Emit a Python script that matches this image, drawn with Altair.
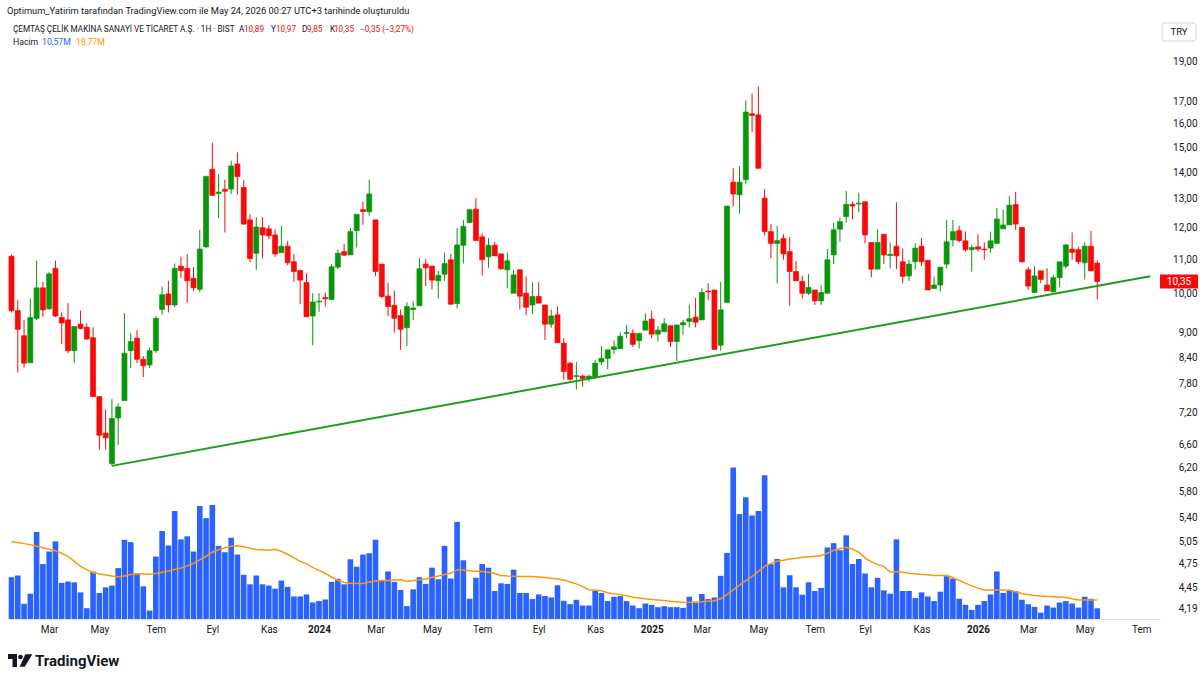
import altair as alt
import pandas as pd

# ---------------- data (weekly candles, BIST:CEMTS) ----------------
FIRST_WEEK = "2023-01-23"

opens = [11.10, 9.55, 8.91, 8.27, 9.35, 10.17, 9.60, 10.73, 9.37, 9.31,
         8.55, 9.20, 9.12, 8.86, 7.53, 6.81, 6.26, 7.10, 7.45, 8.55,
         8.85, 8.35, 8.22, 8.55, 9.58, 10.00, 9.70, 10.80, 10.73, 10.44,
         10.13, 11.39, 14.11, 13.20, 13.35, 13.36, 14.32, 13.42, 12.27, 11.19,
         12.01, 11.97, 11.77, 11.21, 11.41, 10.93, 10.67, 10.32, 9.41, 9.78,
         9.90, 9.85, 10.77, 11.24, 11.14, 11.91, 12.62, 12.55, 12.27, 10.86,
         9.94, 9.69, 9.42, 9.11, 9.58, 9.68, 10.86, 10.80, 10.37, 10.56,
         10.99, 9.74, 11.44, 12.18, 12.64, 11.71, 11.08, 11.44, 11.17, 10.69,
         10.02, 10.69, 10.02, 9.70, 9.93, 9.70, 9.20, 9.44, 8.73, 8.26,
         7.96, 7.97, 7.92, 7.95, 8.29, 8.37, 8.58, 8.60, 8.97, 8.97,
         8.79, 9.05, 9.33, 8.95, 9.01, 9.16, 8.77, 9.18, 9.27, 9.38,
         9.31, 10.08, 10.11, 8.68, 9.77, 13.62, 13.15, 13.71, 16.45, 16.40,
         13.03, 11.88, 11.50, 11.66, 11.24, 10.64, 10.35, 10.02, 10.11, 9.81,
         10.02, 11.14, 11.96, 12.38, 12.81, 12.82, 12.90, 11.53, 10.71, 11.79,
         11.12, 11.41, 10.93, 10.51, 10.93, 11.41, 10.97, 10.15, 10.25, 10.86,
         11.61, 11.91, 11.58, 11.30, 11.39, 11.32, 11.35, 11.50, 11.97, 12.10,
         12.80, 12.02, 10.69, 10.04, 10.66, 10.25, 10.06, 10.46, 10.80, 11.32,
         11.30, 10.90, 11.41, 10.89]
highs = [11.15, 9.83, 9.31, 9.87, 10.96, 10.34, 10.62, 10.96, 9.50, 9.75,
         9.14, 9.55, 9.22, 9.12, 7.53, 7.27, 7.48, 7.39, 9.48, 8.97,
         9.05, 8.42, 8.62, 9.41, 10.20, 10.37, 10.88, 11.08, 11.16, 10.77,
         11.94, 13.87, 15.19, 13.92, 13.71, 14.45, 14.78, 13.69, 12.46, 12.36,
         12.36, 12.10, 11.96, 12.07, 11.58, 11.17, 10.69, 10.59, 10.02, 10.02,
         10.04, 10.85, 11.30, 11.48, 12.00, 12.47, 12.90, 13.71, 12.27, 10.87,
         10.32, 10.09, 9.58, 9.77, 9.79, 11.04, 11.01, 10.80, 10.66, 11.21,
         11.17, 12.00, 12.27, 12.62, 13.03, 11.82, 11.67, 11.55, 11.18, 11.21,
         10.69, 10.69, 10.50, 10.33, 10.33, 9.70, 9.58, 9.66, 8.85, 8.29,
         8.29, 8.00, 8.00, 8.33, 8.66, 8.57, 8.79, 8.99, 9.18, 9.07,
         8.97, 9.48, 9.55, 9.15, 9.35, 9.16, 9.18, 9.31, 9.70, 9.90,
         10.16, 10.30, 10.11, 10.34, 12.75, 14.15, 14.24, 17.06, 17.40, 17.73,
         13.36, 12.13, 12.07, 11.79, 11.70, 10.96, 10.52, 10.56, 10.11, 10.25,
         11.32, 12.18, 12.36, 13.29, 12.90, 13.23, 12.90, 11.53, 11.96, 11.79,
         11.53, 12.88, 11.33, 10.99, 11.50, 11.67, 10.99, 10.49, 10.77, 12.27,
         12.27, 12.07, 11.88, 11.45, 11.79, 11.53, 11.88, 12.68, 12.62, 13.10,
         13.26, 12.02, 10.77, 10.80, 10.66, 10.74, 10.54, 10.93, 11.48, 11.85,
         11.39, 11.53, 11.90, 10.97]
lows = [9.50, 8.05, 8.16, 8.27, 9.30, 9.39, 9.57, 9.38, 8.71, 8.49,
        8.26, 9.07, 8.81, 7.53, 6.51, 6.51, 6.22, 6.59, 7.45, 8.15,
        8.26, 7.95, 8.15, 8.50, 9.44, 9.50, 9.64, 10.46, 9.76, 10.08,
        10.06, 11.36, 13.13, 12.33, 11.85, 13.18, 13.15, 12.10, 10.91, 10.69,
        11.03, 11.63, 11.08, 11.21, 10.83, 10.34, 9.72, 9.39, 8.68, 9.52,
        9.66, 9.83, 10.71, 11.11, 11.14, 11.37, 12.10, 12.41, 10.51, 9.88,
        9.41, 8.99, 8.57, 8.66, 9.31, 9.68, 10.22, 10.13, 9.87, 10.37,
        9.72, 9.61, 10.88, 12.18, 11.59, 10.52, 10.75, 11.11, 10.69, 10.16,
        10.02, 9.58, 9.43, 9.46, 9.75, 8.81, 9.11, 8.74, 7.89, 7.87,
        7.68, 7.74, 7.85, 7.90, 8.22, 8.12, 8.47, 8.60, 8.85, 8.64,
        8.60, 9.05, 8.85, 8.77, 9.01, 8.64, 8.31, 8.93, 9.12, 9.12,
        9.31, 9.83, 8.58, 8.55, 9.77, 12.73, 12.49, 13.54, 15.63, 14.15,
        11.74, 11.04, 10.30, 10.99, 9.68, 10.37, 9.88, 9.97, 9.70, 9.70,
        10.02, 10.86, 11.55, 12.18, 12.29, 12.53, 11.50, 10.47, 10.71, 10.86,
        10.73, 10.71, 10.30, 10.37, 10.69, 10.80, 10.11, 10.15, 10.06, 10.73,
        11.41, 11.53, 11.24, 10.64, 11.24, 10.99, 11.21, 11.48, 11.97, 12.10,
        11.94, 10.90, 10.11, 10.04, 10.30, 10.09, 10.05, 10.19, 10.73, 10.99,
        10.86, 10.41, 10.66, 9.85]
closes = [9.55, 9.07, 8.26, 9.37, 10.17, 9.57, 10.57, 9.41, 9.23, 8.55,
          9.14, 9.09, 8.83, 7.53, 6.77, 6.72, 7.09, 7.32, 8.49, 8.77,
          8.35, 8.20, 8.55, 9.35, 9.98, 9.70, 10.73, 10.67, 10.37, 10.17,
          11.32, 13.83, 13.13, 13.25, 13.28, 14.24, 13.83, 12.13, 11.03, 12.03,
          11.77, 11.74, 11.17, 11.41, 10.90, 10.64, 10.39, 9.39, 9.78, 9.80,
          9.87, 10.78, 11.19, 11.13, 11.88, 12.46, 12.56, 13.18, 10.64, 9.93,
          9.66, 9.35, 9.07, 9.66, 9.62, 10.72, 10.75, 10.39, 10.53, 10.88,
          9.72, 11.45, 12.05, 12.62, 11.59, 10.99, 11.44, 11.11, 10.72, 10.96,
          10.54, 9.94, 9.64, 9.93, 9.75, 9.20, 9.41, 8.74, 8.07, 7.90,
          7.98, 7.92, 7.97, 8.26, 8.37, 8.57, 8.64, 8.90, 8.99, 8.70,
          8.97, 9.28, 8.95, 9.05, 9.21, 8.77, 9.18, 9.24, 9.34, 9.25,
          10.04, 10.06, 8.58, 9.57, 12.75, 13.18, 13.62, 16.53, 16.37, 14.15,
          11.88, 11.50, 11.59, 11.17, 10.64, 10.37, 10.02, 10.18, 9.81, 10.04,
          10.99, 11.94, 12.21, 12.81, 12.75, 12.85, 11.77, 10.71, 11.53, 11.14,
          11.16, 11.11, 10.50, 10.86, 11.35, 10.93, 10.11, 10.25, 10.77, 11.55,
          11.88, 11.59, 11.30, 11.37, 11.32, 11.30, 11.58, 12.30, 12.10, 12.78,
          12.13, 10.93, 10.22, 10.51, 10.41, 10.09, 10.46, 10.93, 11.45, 11.22,
          10.93, 11.41, 10.66, 10.35]
volumes_m = [41.3, 43, 15, 25, 86, 54.3, 66.7, 76.7, 35.7, 37,
             36.3, 26.3, 10.7, 46.7, 25.7, 31.3, 33, 50.3, 78.3, 76,
             45.3, 32.3, 8.3, 61.7, 87, 72.7, 106.7, 78.7, 81.7, 66.7,
             111.7, 99.7, 112.7, 72.3, 66, 80.3, 63.7, 43.7, 34.3, 43,
             34.3, 33, 30, 38, 31.7, 22.3, 22.3, 24.3, 16.3, 17.7,
             19.3, 36.7, 39.7, 34.3, 59, 51.7, 63.7, 65, 78.3, 37.7,
             47, 36.7, 28.7, 12.7, 29.3, 41.3, 34.7, 50.7, 39.3, 72.3,
             40, 96, 58, 20, 40.7, 54.3, 50.7, 27.7, 35.3, 34.7,
             48.7, 25.7, 25.7, 19.7, 24.3, 22.7, 21.3, 33.3, 18, 14.7,
             19, 13.3, 13.3, 28, 25.7, 17.7, 22, 22.7, 17.7, 13.3,
             10.7, 15.3, 14, 11.7, 12.7, 11.7, 11.7, 11, 22, 16,
             24.7, 19.7, 21.3, 42.7, 65.3, 149.7, 103.7, 120.3, 102.3, 106.7,
             142, 54.3, 59.3, 31.3, 43.3, 31.3, 24, 36.3, 27.7, 30.7,
             70.7, 75, 68, 82.7, 54.3, 59.3, 45, 31.3, 40.7, 28.3,
             25, 78.7, 27.7, 27.7, 20.7, 26.3, 22.3, 17.7, 27, 42.3,
             40, 20, 14, 9, 14, 17.7, 24.3, 47, 25.7, 27.7,
             27.7, 19, 14.7, 12, 6.3, 13.3, 11.3, 16.3, 17.7, 15.3,
             11.3, 22, 20, 10.57]
volume_ma_m = [76.3, 75.5, 74.5, 73.5, 72, 70.5, 69, 67.5, 65, 62,
               57, 52, 48.5, 46, 44.5, 43.5, 42.5, 41.7, 42.5, 44,
               44.7, 44.5, 44.3, 45, 46.3, 47.5, 49, 50.5, 52.5, 55,
               58.5, 62, 66, 68.5, 70.5, 72, 72.5, 71.5, 70, 68.7,
               68.3, 68, 69, 67, 64, 60.5, 57, 54.5, 51, 48,
               45, 41.5, 38, 36, 35.3, 35, 35, 36.5, 37.5, 38,
               38, 38.5, 38.7, 37.2, 37.8, 38.7, 39.5, 41, 42.5, 44,
               45.3, 48.5, 48.5, 47.7, 47.3, 47, 46.3, 45, 43, 42.5,
               42.2, 42, 42, 42, 41.5, 41, 40.3, 39.5, 38.5, 36.5,
               34.7, 32, 29, 28.7, 28, 26, 24.7, 24.2, 23, 21.5,
               20.7, 20, 19.3, 18.8, 18.2, 17.5, 17, 16.4, 16.5, 16.8,
               17, 17.5, 18, 20, 24, 28.7, 33.5, 38, 42, 47,
               52, 55, 57, 58, 59.3, 60, 61, 61.5, 62, 62.7,
               65, 68, 69.5, 71, 69, 66, 60.5, 56.5, 54, 52,
               46.5, 47, 46.3, 45.3, 44.7, 44, 43.7, 43, 43, 43,
               41, 38, 35.5, 32.7, 30.5, 28.7, 28.7, 28.7, 28.7, 28.7,
               27, 25, 24.2, 23.3, 22.8, 22.3, 22, 21.7, 21.3, 20,
               18.7, 18.7, 18.7, 18.77]

# hand-drawn support line (from the May-2023 low to the right edge)
trend_dates = ["2023-05-15", "2026-07-16"]
trend_prices = [6.22, 10.50]

price_ticks = [4.19, 4.45, 4.75, 5.05, 5.40, 5.80, 6.20, 6.60, 7.20, 7.80, 8.40,
               9.00, 10.00, 11.00, 12.00, 13.00, 14.00, 15.00, 16.00, 17.00, 19.00]
month_ticks = ["2023-03", "2023-05", "2023-07", "2023-09", "2023-11",
               "2024-01", "2024-03", "2024-05", "2024-07", "2024-09", "2024-11",
               "2025-01", "2025-03", "2025-05", "2025-07", "2025-09", "2025-11",
               "2026-01", "2026-03", "2026-05", "2026-07"]
month_names_tr = ["Oca", "Şub", "Mar", "Nis", "May", "Haz",
                  "Tem", "Ağu", "Eyl", "Eki", "Kas", "Ara"]

# ---------------- build table ----------------
t0 = pd.Timestamp(FIRST_WEEK, tz="UTC")
week = pd.Timedelta(days=7)
dates = [(t0 + k * week).strftime("%Y-%m-%d") for k in range(len(opens))]
df = pd.DataFrame({
    "date": dates, "open": opens, "high": highs, "low": lows, "close": closes,
    "volume": volumes_m, "vol_ma": volume_ma_m,
})
df["dir"] = ["up" if c >= o else "down" for o, c in zip(opens, closes)]


def ms(ts):
    return int(ts.timestamp() * 1000)


# axis tick = first weekly bar of each labelled month
all_weeks = [t0 + k * week for k in range(200)]
tick_ms = []
for m in month_ticks:
    first = next(w for w in all_weeks if w.strftime("%Y-%m") == m)
    tick_ms.append(ms(first))

x_domain = [ms(t0 + 0.08 * week), ms(t0 + 182.2 * week)]

GREEN = "#0a960a"
RED = "#f70a0a"
TEXT = "#131722"
FONT = "Roboto"

names_js = "[" + ",".join("'%s'" % n for n in month_names_tr) + "]"
x_axis = alt.Axis(
    values=tick_ms,
    labelExpr="utcmonth(datum.value) == 0 ? utcFormat(datum.value, '%Y') : "
              + names_js + "[utcmonth(datum.value)]",
    labelFontWeight={"condition": {"test": "utcmonth(datum.value) == 0", "value": "bold"},
                     "value": "normal"},
    ticks=False, grid=False, domain=True, domainColor="#e0e3eb",
    labelColor=TEXT, labelFontSize=10, labelFont=FONT, labelPadding=5,
    labelFlush=False, labelOverlap=False, title=None,
)
x_enc = alt.X("date:T", scale=alt.Scale(type="utc", domain=x_domain, nice=False), axis=x_axis)

price_scale = alt.Scale(type="log", domain=[4.075, 21.43], nice=False)
vol_scale = alt.Scale(domain=[0, 594], nice=False, zero=True)
dir_color = alt.Scale(domain=["up", "down"], range=[GREEN, RED])

y_axis = alt.Axis(
    orient="right", values=price_ticks,
    labelExpr="replace(format(datum.value, '.2f'), '.', ',')",
    ticks=False, domain=False, grid=False, labelPadding=37, labelAlign="right",
    labelFontSize=10, labelFont=FONT, labelColor=TEXT,
    labelOverlap=False, labelFlush=False, title=None,
)

base = alt.Chart(df)

vol_bars = base.mark_bar(size=5.6, color="#2962ff", clip=True).encode(
    x=x_enc, y=alt.Y("volume:Q", scale=vol_scale, axis=None))
vol_line = base.mark_line(color="#ff9800", strokeWidth=1.5, clip=True).encode(
    x=x_enc, y=alt.Y("vol_ma:Q", scale=vol_scale, axis=None))

wicks = base.mark_rule(strokeWidth=1, clip=True).encode(
    x=x_enc,
    y=alt.Y("low:Q", scale=price_scale, axis=y_axis),
    y2="high:Q",
    color=alt.Color("dir:N", scale=dir_color, legend=None),
)
bodies = base.mark_bar(size=5, strokeWidth=0.7, clip=True).encode(
    x=x_enc,
    y=alt.Y("open:Q", scale=price_scale, axis=y_axis),
    y2="close:Q",
    color=alt.Color("dir:N", scale=dir_color, legend=None),
    stroke=alt.Stroke("dir:N", scale=dir_color, legend=None),
)

trend_df = pd.DataFrame({"date": trend_dates, "price": trend_prices})
trend = alt.Chart(trend_df).mark_line(color="#1c9e1c", strokeWidth=2, clip=True).encode(
    x=x_enc, y=alt.Y("price:Q", scale=price_scale, axis=y_axis))

last_df = pd.DataFrame({"price": [closes[-1]],
                        "label": [("%.2f" % closes[-1]).replace(".", ",")]})
last_box = alt.Chart(last_df).mark_point(
    shape="M-1,-0.37L1,-0.37L1,0.37L-1,0.37Z", size=1444, filled=True,
    color=RED, opacity=1).encode(
    x=alt.value(1172), y=alt.Y("price:Q", scale=price_scale, axis=y_axis))
last_text = alt.Chart(last_df).mark_text(
    color="white", fontSize=10, font=FONT, align="center", baseline="middle").encode(
    x=alt.value(1172), y=alt.Y("price:Q", scale=price_scale, axis=y_axis), text="label:N")

one = pd.DataFrame({"k": [0]})
OX, OY = 7, 18


def label(text, x, y, color=TEXT, size=9.5, weight="normal", align="left"):
    return alt.Chart(one).mark_text(
        text=text, align=align, baseline="middle", fontSize=size,
        fontWeight=weight, color=color, font=FONT).encode(
        x=alt.value(x - OX), y=alt.value(y - OY))


HS = 8.2
decor = [
    label("Optimum_Yatirim tarafından TradingView.com ile May 24, 2026 00:27 UTC+3 tarihinde oluşturuldu",
          7, 11, size=9.3),
    label("ÇEMTAŞ ÇELİK MAKİNA SANAYİ VE TİCARET A.Ş. · 1H · BIST", 13, 30, size=HS),
    label("A", 239, 30, size=HS), label("10,89", 244, 30, color=RED, size=HS),
    label("Y", 271, 30, size=HS), label("10,97", 276, 30, color=RED, size=HS),
    label("D", 302, 30, size=HS), label("9,85", 307, 30, color=RED, size=HS),
    label("K", 330, 30, size=HS), label("10,35", 334, 30, color=RED, size=HS),
    label("−0,35 (−3,27%)", 360, 30, color=RED, size=HS),
    label("Hacim", 13, 42, size=HS + 0.5),
    label("10,57M", 42, 42, color="#2962ff", size=HS + 0.5),
    label("18,77M", 76, 42, color="#ff9800", size=HS + 0.5),
    alt.Chart(one).mark_rect(fill="white", stroke="#d1d4dc", strokeWidth=1, cornerRadius=3).encode(
        x=alt.value(1162 - OX), x2=alt.value(1196 - OX),
        y=alt.value(23 - OY), y2=alt.value(41 - OY)),
    label("TRY", 1179, 32, size=9.5, align="center"),
    # TradingView logo (approximate)
    alt.Chart(one).mark_rect(fill="#131722").encode(
        x=alt.value(8 - OX), x2=alt.value(17 - OX), y=alt.value(654 - OY), y2=alt.value(659 - OY)),
    alt.Chart(one).mark_rect(fill="#131722").encode(
        x=alt.value(12.5 - OX), x2=alt.value(17 - OX), y=alt.value(654 - OY), y2=alt.value(667 - OY)),
    alt.Chart(one).mark_point(shape="circle", filled=True, size=22, color="#131722", opacity=1).encode(
        x=alt.value(20.5 - OX), y=alt.value(657 - OY)),
    alt.Chart(one).mark_point(shape="M-0.1,-1L1,-1L-0.2,1L-1,1Z", filled=True, size=160,
                              color="#131722", opacity=1).encode(
        x=alt.value(26 - OX), y=alt.value(660.5 - OY)),
    label("TradingView", 35, 661, size=15, weight="bold"),
]

price_layer = alt.layer(wicks, bodies, trend, last_box, last_text)
vol_layer = alt.layer(vol_bars, vol_line)

chart = alt.layer(price_layer, vol_layer, *decor).resolve_scale(
    y="independent"
).properties(
    width=1153, height=601,
    padding={"left": OX, "top": OY, "right": 40, "bottom": 63},
    autosize=alt.AutoSizeParams(type="none"),
).configure(
    background="white", font=FONT,
).configure_view(
    stroke=None,
)

chart.save("out.html", embed_options={"renderer": "svg", "actions": False})
